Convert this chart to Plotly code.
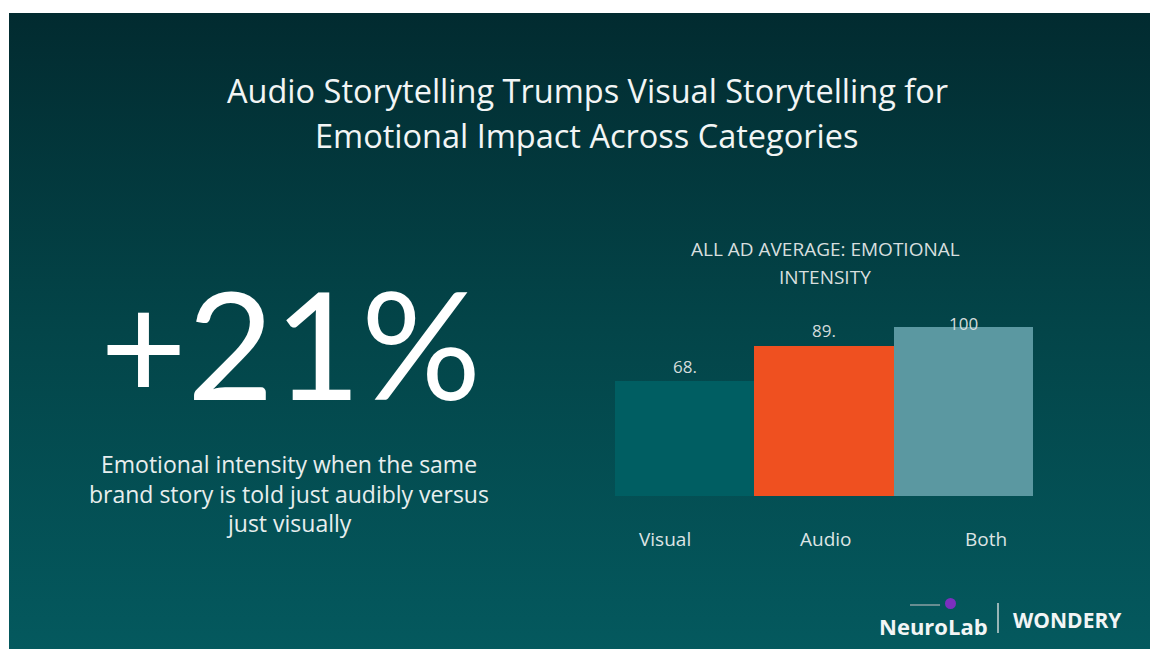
import base64
import plotly.graph_objects as go

categories = ["Visual", "Audio", "Both"]
values = [68, 89, 100]
value_labels = ["68.", "89.", "100"]
bar_colors = ["#005e62", "#ef5020", "#5b98a1"]

title_lines = ["Audio Storytelling Trumps Visual Storytelling for", "Emotional Impact Across Categories"]
chart_title_lines = ["ALL AD AVERAGE: EMOTIONAL", "INTENSITY"]
big_stat = "+21%"
caption_lines = ["Emotional intensity when the same", "brand story is told just audibly versus", "just visually"]

W, H = 1150, 649
FONT = "Open Sans, sans-serif"
FONT_BIG = "Lato, Open Sans, sans-serif"

svg = f'''<svg xmlns="http://www.w3.org/2000/svg" width="{W}" height="{H}" viewBox="0 0 {W} {H}">
<defs><linearGradient id="g" x1="0" y1="0" x2="0" y2="1">
<stop offset="0" stop-color="#022b30"/><stop offset="0.5" stop-color="#034549"/>
<stop offset="1" stop-color="#04595e"/></linearGradient></defs>
<rect x="0" y="0" width="{W}" height="{H}" fill="#ffffff"/>
<rect x="9" y="13" width="{W-9}" height="{H-13}" fill="url(#g)"/>
</svg>'''
bg_uri = "data:image/svg+xml;base64," + base64.b64encode(svg.encode()).decode()

fig = go.Figure()
fig.add_trace(go.Bar(
    x=categories, y=values, marker=dict(color=bar_colors, line=dict(width=0)),
    hoverinfo="x+y", showlegend=False,
))

def px_x(x):
    return x / W

def px_y(y):
    return 1 - y / H

def text_at(x, y, text, size, color, family=FONT):
    return dict(x=px_x(x), y=px_y(y), xref="paper", yref="paper", text=text, showarrow=False,
                xanchor="center", yanchor="middle", borderpad=0,
                font=dict(family=family, size=size, color=color))

annotations = []
val_shifts = [15, 15, 4]
cat_shifts = [-20, 2, 23]
for c, v, lab, s, cs in zip(categories, values, value_labels, val_shifts, cat_shifts):
    annotations.append(dict(x=c, y=v, xref="x", yref="y", text=lab, showarrow=False,
                            yanchor="middle", yshift=s, borderpad=0,
                            font=dict(family=FONT, size=17, color="#d4dcdc")))
    annotations.append(dict(x=c, y=0, xref="x", yref="y", text=c, showarrow=False,
                            yanchor="middle", yshift=-43, xshift=cs, borderpad=0,
                            font=dict(family=FONT, size=19, color="#dde4e4")))

for i, line in enumerate(title_lines):
    annotations.append(text_at(587, 91 + 44 * i, line, 32.5, "#f2f5f5"))
for i, line in enumerate(chart_title_lines):
    annotations.append(text_at(825, 249 + 28 * i, line, 19, "#d8dfdf"))
for i, line in enumerate(caption_lines):
    annotations.append(text_at(289, 464 + 29.5 * i, line, 23, "#e8eeee"))

annotations += [
    text_at(290, 342, big_stat, 150, "#ffffff", FONT_BIG),
    text_at(933, 626, "<b>NeuroLab</b>", 22, "#f2f5f5"),
    text_at(1067, 620, "<b>WONDERY</b>", 21, "#f2f5f5"),
]

shapes = [
    dict(type="line", xref="paper", yref="paper", x0=px_x(998), x1=px_x(998),
         y0=px_y(603), y1=px_y(633), line=dict(color="#c8d4d4", width=1.5)),
    dict(type="circle", xref="paper", yref="paper", x0=px_x(945), x1=px_x(956),
         y0=px_y(609), y1=px_y(598), fillcolor="#7b2fbf", line=dict(width=0)),
    dict(type="line", xref="paper", yref="paper", x0=px_x(910), x1=px_x(940),
         y0=px_y(605), y1=px_y(605), line=dict(color="#8aa0a3", width=1.5)),
]

fig.update_layout(
    width=W, height=H,
    margin=dict(l=0, r=0, t=0, b=0),
    paper_bgcolor="#ffffff", plot_bgcolor="rgba(0,0,0,0)",
    bargap=0,
    images=[dict(source=bg_uri, xref="paper", yref="paper", x=0, y=1, sizex=1, sizey=1,
                 sizing="stretch", layer="below", xanchor="left", yanchor="top")],
    xaxis=dict(domain=[615 / W, 1033 / W], showgrid=False, zeroline=False, showline=False,
               ticks="", showticklabels=False),
    yaxis=dict(domain=[1 - 496 / H, 1 - 327 / H], range=[0, 100], visible=False,
               showgrid=False, zeroline=False),
    annotations=annotations,
    shapes=shapes,
    showlegend=False,
)

fig.write_html("out.html")
